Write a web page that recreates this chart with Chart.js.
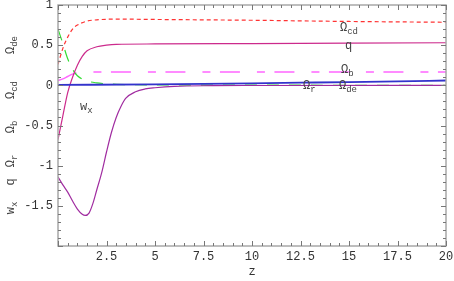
<!DOCTYPE html>
<html>
<head>
<meta charset="utf-8">
<script src="https://cdn.jsdelivr.net/npm/chart.js@4"></script>
<style>
  html, body { margin: 0; padding: 0; background: #fff; }
</style>
</head>
<body>
<canvas id="myChart" width="454" height="281"></canvas>
<script>
// values
var zCd = [0, 0.25, 0.5, 0.75, 1, 1.5, 2, 3, 5, 10, 15, 20];
var omegaCd = [0.26, 0.46, 0.6, 0.7, 0.75, 0.8, 0.815, 0.825, 0.82, 0.81, 0.795, 0.785];

var zQ = [0, 0.25, 0.5, 0.75, 1, 1.25, 1.5, 2, 2.5, 3, 5, 10, 20];
var qVals = [-0.675, -0.38, -0.09, 0.1, 0.25, 0.36, 0.43, 0.48, 0.5, 0.51, 0.515, 0.52, 0.53];

var zB = [0, 0.25, 0.5, 0.75, 1, 1.5, 2, 5, 10, 20];
var omegaB = [0.06, 0.08, 0.11, 0.14, 0.155, 0.165, 0.167, 0.167, 0.166, 0.165];

var zDe = [0, 0.25, 0.5, 0.75, 1, 1.5, 2, 2.5, 3, 5, 10, 20];
var omegaDe = [0.7, 0.52, 0.33, 0.2, 0.12, 0.055, 0.03, 0.02, 0.013, 0.006, 0.002, 0.001];

var zR = [0, 5, 10, 12.5, 15, 17.5, 20];
var omegaR = [0.005, 0.013, 0.025, 0.033, 0.041, 0.05, 0.06];

var zW = [0, 0.25, 0.5, 0.75, 1, 1.25, 1.4, 1.6, 1.8, 2, 2.25, 2.5, 2.75, 3, 3.25, 3.5, 4, 4.5, 5, 6, 8, 10, 20];
var wX = [-1.14, -1.24, -1.33, -1.44, -1.54, -1.605, -1.62, -1.59, -1.47, -1.3, -1.09, -0.83, -0.59, -0.4, -0.26, -0.16, -0.08, -0.045, -0.03, -0.012, -0.004, -0.002, 0];

var xTickStep = 2.5;
var yTickStep = 0.5;

function pts(xs, ys) {
    var out = [];
    for (var i = 0; i < xs.length; i++) {
        out.push({x: xs[i], y: ys[i]});
    }
    return out;
}

function series(xs, ys, color, width, dash) {
    return {
        data: pts(xs, ys),
        borderColor: color,
        borderWidth: width,
        borderDash: dash || [],
        pointRadius: 0,
        fill: false,
        cubicInterpolationMode: 'monotone'
    };
}

var monoFont = '"Liberation Mono", "DejaVu Sans Mono", monospace';

// label with a subscript, optionally rotated (-90deg) for the y title stack
function subLabel(ctx, x, y, main, sub, rotated) {
    ctx.save();
    ctx.translate(x, y);
    if (rotated) ctx.rotate(-Math.PI / 2);
    ctx.fillStyle = '#444';
    ctx.textBaseline = 'alphabetic';
    ctx.font = '12px ' + monoFont;
    var w = ctx.measureText(main).width;
    var total = w + (sub ? ctx.measureText(sub).width * 0.75 : 0);
    var start = rotated ? -total / 2 : 0;
    ctx.textAlign = 'left';
    ctx.fillText(main, start, 0);
    if (sub) {
        ctx.font = '9px ' + monoFont;
        ctx.fillText(sub, start + w, 3);
    }
    ctx.restore();
}

// Mathematica-like frame with inward ticks, plus the text labels
var framePlugin = {
    id: 'frame',
    afterDraw: function(chart) {
        var ctx = chart.ctx;
        var a = chart.chartArea;
        var xs = chart.scales.x, ys = chart.scales.y;
        ctx.save();
        ctx.strokeStyle = '#a8a8a8';
        ctx.lineWidth = 1.5;
        ctx.strokeRect(a.left, a.top, a.right - a.left, a.bottom - a.top);
        ctx.strokeStyle = '#777';
        ctx.lineWidth = 1;
        ctx.beginPath();
        for (var i = 0; i <= 40; i++) {
            var v = i * 0.5;
            var px = Math.round(xs.getPixelForValue(v)) + 0.5;
            var len = (i % 5 === 0) ? 5 : 3;
            ctx.moveTo(px, a.bottom); ctx.lineTo(px, a.bottom - len);
            ctx.moveTo(px, a.top); ctx.lineTo(px, a.top + len);
        }
        for (var j = 0; j <= 30; j++) {
            var vy = -2 + j * 0.1;
            var py = Math.round(ys.getPixelForValue(vy)) + 0.5;
            var leny = (j % 5 === 0) ? 5 : 3;
            ctx.moveTo(a.left, py); ctx.lineTo(a.left + leny, py);
            ctx.moveTo(a.right, py); ctx.lineTo(a.right - leny, py);
        }
        ctx.stroke();
        ctx.restore();

        // stacked y titles
        subLabel(ctx, 14, 45, '\u03A9', 'de', true);
        subLabel(ctx, 14, 90, '\u03A9', 'cd', true);
        subLabel(ctx, 14, 127, '\u03A9', 'b', true);
        subLabel(ctx, 14, 161, '\u03A9', 'r', true);
        subLabel(ctx, 14, 182, 'q', '', true);
        subLabel(ctx, 14, 208, 'w', 'x', true);

        // curve labels
        subLabel(ctx, 340, 31, '\u03A9', 'cd', false);
        subLabel(ctx, 345, 49, 'q', '', false);
        subLabel(ctx, 341, 73, '\u03A9', 'b', false);
        subLabel(ctx, 303, 89, '\u03A9', 'r', false);
        subLabel(ctx, 339, 89, '\u03A9', 'de', false);
        subLabel(ctx, 80, 110, 'w', 'x', false);
    }
};

new Chart(document.getElementById('myChart'), {
    type: 'line',
    data: {
        datasets: [
            series(zR, omegaR, '#3333cc', 1.8),
            series(zW, wX, '#a02ca0', 1.2),
            series(zQ, qVals, '#cc2a8c', 1.2),
            series(zDe, omegaDe, '#33dd33', 1.2, [12, 10]),
            series(zB, omegaB, '#ff66ff', 1.5, [20, 17, 8, 9.5]),
            series(zCd, omegaCd, '#ff3333', 1.2, [4, 3])
        ]
    },
    plugins: [framePlugin],
    options: {
        responsive: false,
        animation: false,
        layout: { padding: { top: 5, right: 8, left: 0, bottom: 0 } },
        plugins: {
            legend: { display: false },
            tooltip: { enabled: false }
        },
        scales: {
            x: {
                type: 'linear',
                min: 0,
                max: 20,
                grid: { display: false, drawTicks: false },
                border: { display: false },
                afterFit: function(scale) {
                    scale.height = 35;
                    scale.paddingLeft = 0;
                    scale.paddingRight = 0;
                },
                ticks: {
                    stepSize: xTickStep,
                    padding: 4,
                    color: '#333',
                    font: { family: monoFont, size: 12 },
                    maxRotation: 0,
                    callback: function(v) { return v === 0 ? '' : v; }
                },
                title: {
                    display: true,
                    text: 'z',
                    color: '#333',
                    font: { family: monoFont, size: 12 },
                    padding: { top: 0, bottom: 2 }
                }
            },
            y: {
                type: 'linear',
                min: -2,
                max: 1,
                grid: { display: false, drawTicks: false },
                border: { display: false },
                afterFit: function(scale) {
                    scale.width = 58;
                    scale.paddingTop = 0;
                    scale.paddingBottom = 0;
                },
                ticks: {
                    stepSize: yTickStep,
                    padding: 5,
                    color: '#333',
                    font: { family: monoFont, size: 12 },
                    callback: function(v) { return v === -2 ? '' : v; }
                }
            }
        }
    }
});
</script>
</body>
</html>
